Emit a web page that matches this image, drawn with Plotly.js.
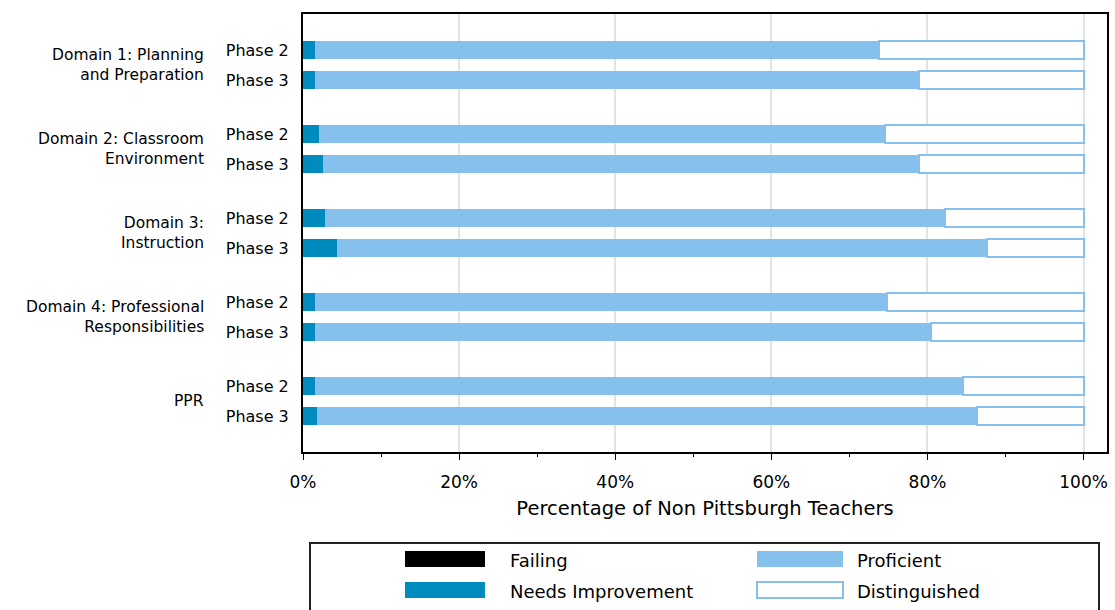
<!DOCTYPE html>
<html>
<head>
<meta charset="utf-8">
<script src="https://cdn.plot.ly/plotly-3.0.1.min.js"></script>
<style>html,body{margin:0;padding:0;background:#fff;}#chart{width:1115px;height:610px;}</style>
</head>
<body>
<div id="chart"></div>
<script>
// ---- data ----
const groups = ["Domain 1: Planning<br>and Preparation", "Domain 2: Classroom<br>Environment", "Domain 3:<br>Instruction", "Domain 4: Professional<br>Responsibilities", "PPR"];
const phases = ["Phase 2", "Phase 3"];
const seriesNames = ["Failing", "Needs Improvement", "Proficient", "Distinguished"];
const failing          = [0, 0, 0, 0, 0, 0, 0, 0, 0, 0];
const needsImprovement = [1.5, 1.5, 2.0, 2.5, 2.8, 4.3, 1.5, 1.5, 1.5, 1.8];
const proficient       = [72.3, 77.4, 72.5, 76.4, 79.5, 83.3, 73.3, 78.9, 83.0, 84.5];
const distinguished    = [26.2, 21.1, 25.5, 21.1, 17.7, 12.4, 25.2, 19.6, 15.5, 13.7];
const xTickVals = [0, 20, 40, 60, 80, 100];

// ---- styles ----
const FONT = "DejaVu Sans";
const colors = ["#000000", "#008BBF", "#85C1EC", "#FFFFFF"];
const groupStep = 2.8;

// row positions derived from group / phase indices
const ypos = [], ytext = [];
groups.forEach((g, gi) => phases.forEach((p, pi) => { ypos.push(gi * groupStep + pi); ytext.push(p); }));

const values = [failing, needsImprovement, proficient, distinguished];
const traces = values.map((v, i) => ({
  type: "bar", orientation: "h", name: seriesNames[i],
  x: v, y: ypos, width: 0.57,
  marker: {color: colors[i], line: {color: i === 3 ? "#85C1EC" : colors[i], width: i === 3 ? 2 : 0}},
  showlegend: false, hoverinfo: "x+name"
}));

const W = 1115, H = 610, L = 303, R = 8, T = 14, B = 158;
const pw = W - L - R, ph = H - T - B;
const px = v => (v - L) / pw;
const py = v => (H - B - v) / ph;

const annotations = groups.map((g, gi) => ({
  xref: "paper", yref: "y", x: px(206), y: gi * groupStep + 0.5,
  xanchor: "right", yanchor: "middle", align: "right", showarrow: false,
  text: g, font: {family: FONT, size: 15.5, color: "#000"}
}));

const shapes = [{type: "rect", xref: "paper", yref: "paper", x0: px(310), x1: px(1099), y0: py(543), y1: py(625),
  line: {color: "#222", width: 2}, fillcolor: "rgba(0,0,0,0)"}];
const legendPos = [
  {x0: 405, x1: 485, y0: 551, y1: 567, tx: 508},
  {x0: 405, x1: 485, y0: 582, y1: 598, tx: 508},
  {x0: 757, x1: 843, y0: 551, y1: 567, tx: 855},
  {x0: 757, x1: 843, y0: 582, y1: 598, tx: 855}
];
seriesNames.forEach((n, i) => {
  const p = legendPos[i];
  shapes.push({type: "rect", xref: "paper", yref: "paper", x0: px(p.x0), x1: px(p.x1), y0: py(p.y0), y1: py(p.y1),
    fillcolor: colors[i], line: {color: i === 3 ? "#85C1EC" : colors[i], width: i === 3 ? 2 : 0}});
  annotations.push({xref: "paper", yref: "paper", x: px(p.tx), y: py((p.y0 + p.y1) / 2 + 1),
    xanchor: "left", yanchor: "middle", showarrow: false, text: n,
    font: {family: FONT, size: 18, color: "#000"}});
});

const layout = {
  width: W, height: H,
  margin: {l: L, r: R, t: T, b: B, pad: 0},
  paper_bgcolor: "#fff", plot_bgcolor: "#fff",
  barmode: "stack", showlegend: false,
  font: {family: FONT, color: "#000"},
  xaxis: {
    range: [0, 103], tickvals: xTickVals, ticktext: xTickVals.map(v => v + "%"),
    ticks: "outside", ticklen: 6, tickwidth: 1, tickcolor: "#000", ticklabelstandoff: 8,
    minor: {ticks: "outside", ticklen: 3, dtick: 10, tick0: 0, tickcolor: "#000", showgrid: false},
    showgrid: true, gridcolor: "#E3E3E3", gridwidth: 2, zeroline: false,
    showline: true, linecolor: "#000", linewidth: 2, mirror: true,
    tickfont: {family: FONT, size: 17},
    title: {text: "Percentage of Non Pittsburgh Teachers", font: {family: FONT, size: 19.5}, standoff: 10},
    fixedrange: true
  },
  yaxis: {
    range: [4 * groupStep + 1 + 1.2, -1.2], tickvals: ypos, ticktext: ytext,
    ticks: "", showgrid: false, zeroline: false,
    showline: true, linecolor: "#000", linewidth: 2, mirror: true,
    tickfont: {family: FONT, size: 16}, ticklabelstandoff: 9, fixedrange: true
  },
  annotations: annotations,
  shapes: shapes
};

Plotly.newPlot("chart", traces, layout, {displayModeBar: false, staticPlot: true});
</script>
</body>
</html>
